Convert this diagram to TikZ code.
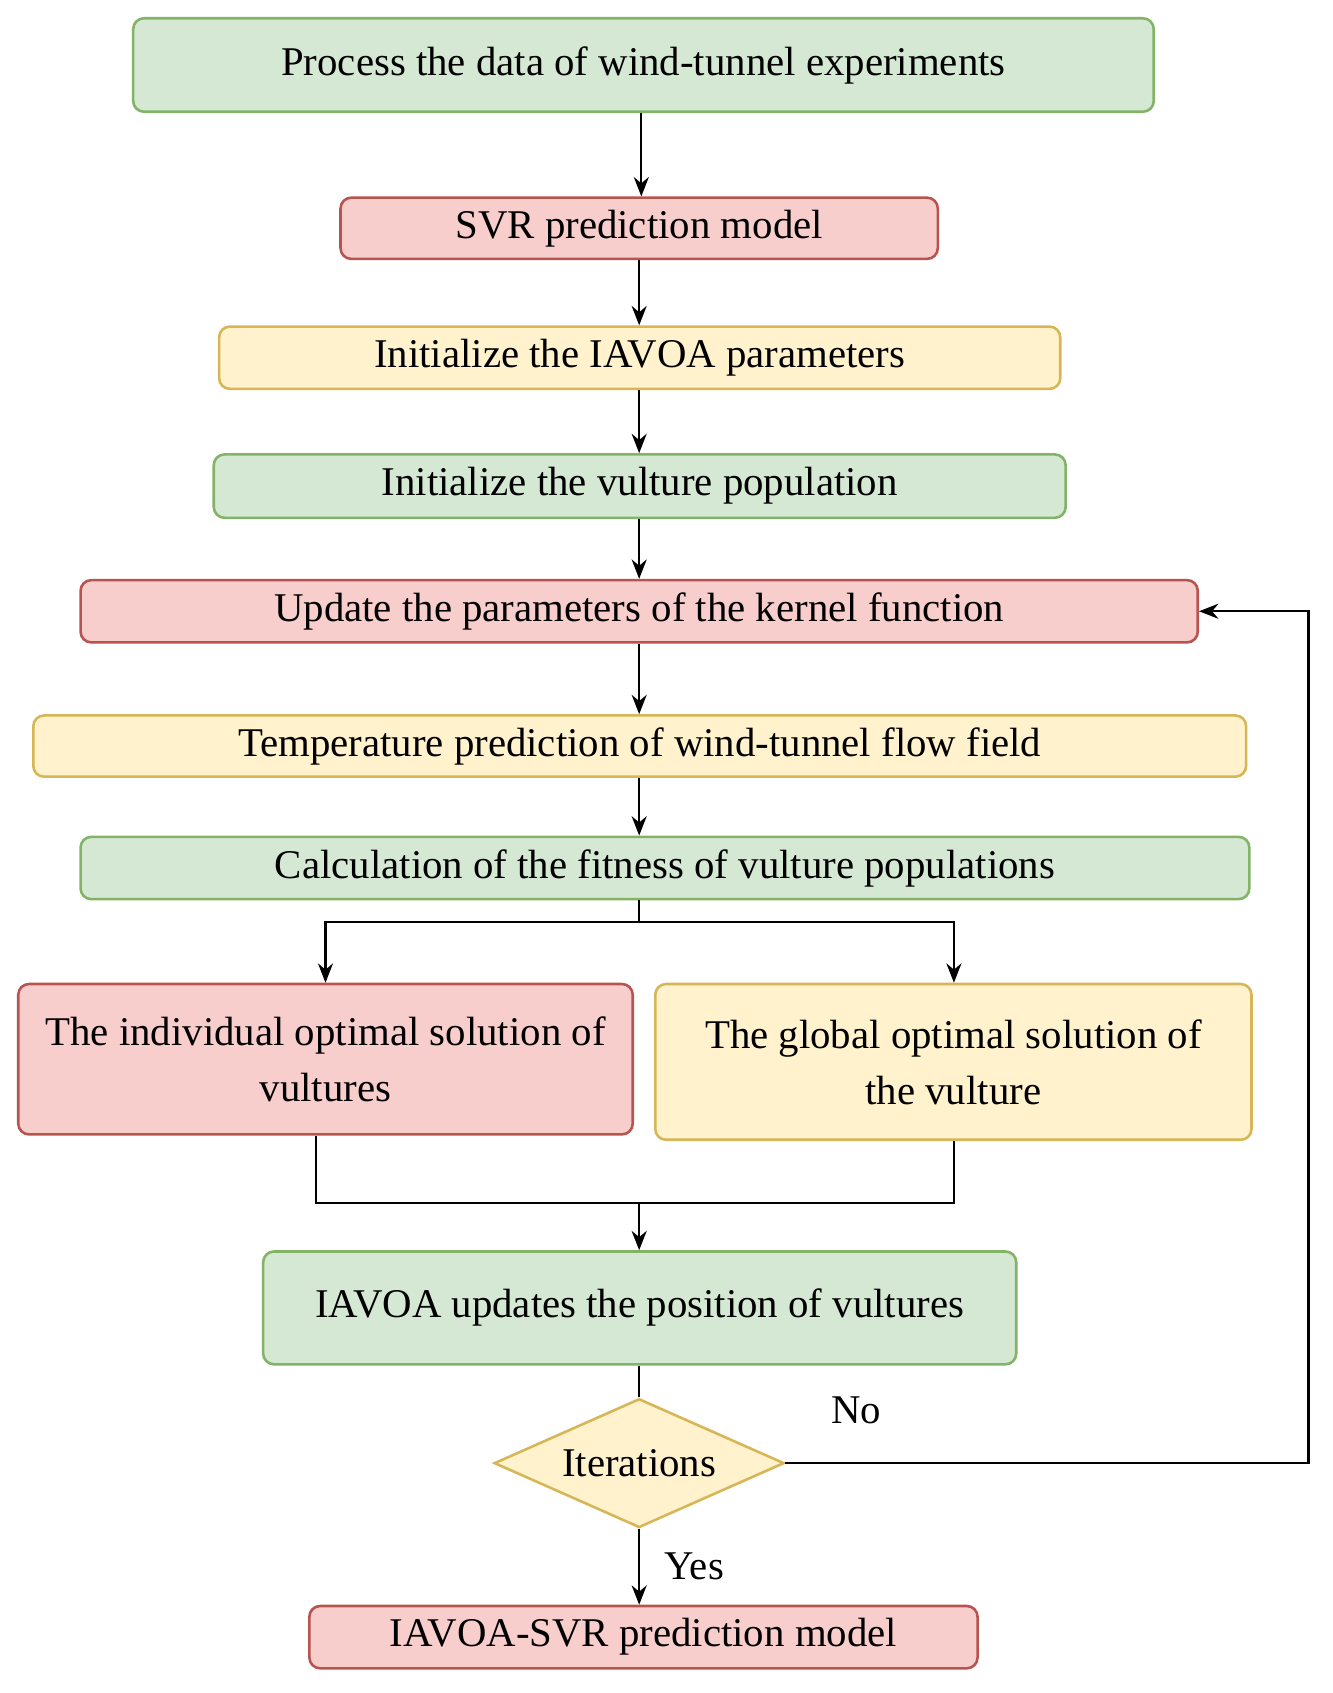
\documentclass[tikz,border=0pt]{standalone}
\usepackage{fontspec}
\setmainfont{Liberation Serif}
\usetikzlibrary{shapes.geometric,arrows.meta}
\definecolor{gf}{HTML}{D5E8D4}\definecolor{gs}{HTML}{82B366}
\definecolor{rf}{HTML}{F8CECC}\definecolor{rs}{HTML}{B85450}
\definecolor{yf}{HTML}{FFF2CC}\definecolor{ys}{HTML}{D6B656}
\newcommand\bx[7]{\node[box,#2,minimum width={(#5-#3)*0.5pt},minimum height={(#6-#4)*0.5pt}] (#1) at ({(#3+#5)/2},{(#4+#6)/2}) {#7};}
\begin{document}
\begin{tikzpicture}[x=0.5pt,y=-0.5pt,
 box/.style={draw,line width=1.2pt,rounded corners=5pt,inner sep=0pt,align=center,font=\fontsize{19}{26}\selectfont},
 G/.style={fill=gf,draw=gs},R/.style={fill=rf,draw=rs},Y/.style={fill=yf,draw=ys},
 ar/.style={-{Stealth[length=9pt,width=7pt]},line width=1pt},ln/.style={line width=1pt}]
\useasboundingbox (0,0) rectangle (1240,1576);
\bx{a}{G}{124}{17}{1074}{104}{Process the data of wind-tunnel experiments}
\bx{b}{R}{317}{184}{873}{241}{SVR prediction model}
\bx{c}{Y}{204}{304}{987}{362}{Initialize the IAVOA parameters}
\bx{d}{G}{199}{423}{992}{482}{Initialize the vulture population}
\bx{e}{R}{75}{540}{1115}{598}{Update the parameters of the kernel function}
\bx{f}{Y}{31}{666}{1160}{723}{Temperature prediction of wind-tunnel flow field}
\bx{g}{G}{75}{779}{1163}{837}{Calculation of the fitness of vulture populations}
\bx{h}{R}{17}{916}{589}{1056}{The individual optimal solution of\\vultures}
\bx{i}{Y}{610}{916}{1165}{1061}{The global optimal solution of\\the vulture}
\bx{j}{G}{245}{1165}{946}{1270}{IAVOA updates the position of vultures}
\node[diamond,draw=ys,fill=yf,line width=1.2pt,minimum width=135pt,minimum height=60pt,inner sep=0pt] (k) at (595,1362) {};
\node[font=\fontsize{19}{26}\selectfont] (kt) at (k) {Iterations};
\bx{l}{R}{288}{1495}{910}{1553}{IAVOA-SVR prediction model}
\draw[ar] (a.south -| 597,0) -- (b.north -| 597,0);
\draw[ar] (b.south -| 595,0) -- (c.north -| 595,0);
\draw[ar] (c.south -| 595,0) -- (d.north -| 595,0);
\draw[ar] (d.south -| 595,0) -- (e.north -| 595,0);
\draw[ar] (e.south -| 595,0) -- (f.north -| 595,0);
\draw[ar] (f.south -| 595,0) -- (g.north -| 595,0);
\coordinate (s) at (595,858);
\draw[ln] (g.south -| s) -- (s);
\draw[ar] (s) -| (h.north -| 303,0);
\draw[ar] (s) -| (i.north -| 888,0);
\coordinate (m) at (595,1120);
\draw[ln] (h.south -| 294,0) |- (m);
\draw[ln] (i.south -| 888,0) |- (m);
\draw[ar] (m) -- (j.north -| m);
\draw[ln] (j.south -| k) -- (k.north);
\draw[ar] (k.south) -- node[right,font=\fontsize{19}{26}\selectfont,xshift=8pt]{Yes} (l.north -| k);
\coordinate (r) at (1218,1362);
\draw[ar] (k.east) -- (r) |- (e.east);
\node[font=\fontsize{19}{26}\selectfont] (no) at (797,1313) {No};
\end{tikzpicture}
\end{document}
